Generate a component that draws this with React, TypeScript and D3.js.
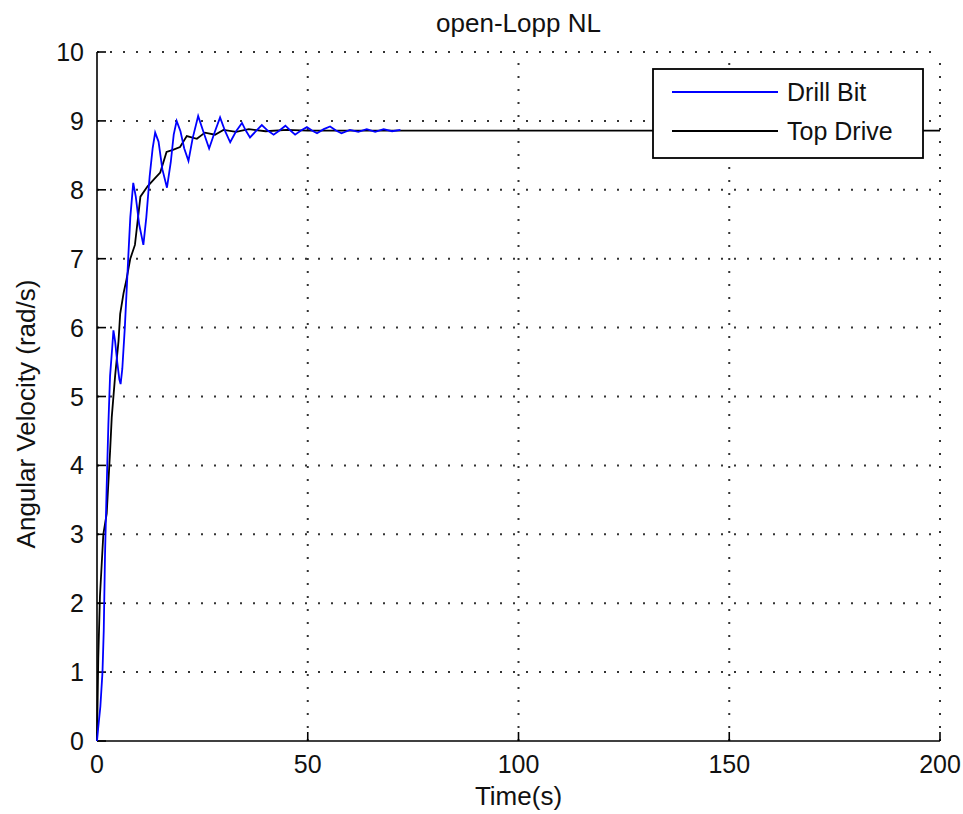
import React from 'react';
import * as d3 from 'd3';

// Drill bit angular velocity (blue)
const bitTime = [0, 0.3, 0.8, 1.3, 1.6, 1.9, 2.3, 2.7, 3.1, 3.6, 3.9, 4.3, 4.8, 5.3, 5.6, 6.0, 6.6, 7.0, 7.4, 7.9, 8.6, 9.2, 10, 11, 11.7, 12.5, 13.2, 13.8, 14.6, 15.5, 16.6, 17.5, 18.2, 18.9, 19.8, 20.7, 21.7, 22.7, 24, 25.2, 26.6, 28, 29.2, 30.4, 31.6, 33, 34.4, 35.3, 36.3, 37.7, 39.1, 40.5, 41.9, 43.3, 44.7, 45.9, 47, 48.4, 49.8, 51, 52.2, 53.8, 55.3, 56.7, 58, 60, 62, 64, 66, 68, 70, 72];
const bitVel = [0, 0.2, 0.5, 1.0, 1.6, 2.7, 3.7, 4.6, 5.3, 5.7, 5.96, 5.8, 5.5, 5.25, 5.18, 5.4, 6.0, 6.5, 7.0, 7.6, 8.1, 7.9, 7.5, 7.2, 7.6, 8.2, 8.6, 8.83, 8.7, 8.3, 8.03, 8.4, 8.8, 9.0, 8.85, 8.6, 8.42, 8.75, 9.07, 8.85, 8.6, 8.85, 9.05, 8.85, 8.69, 8.85, 8.97, 8.86, 8.76, 8.85, 8.94, 8.86, 8.8, 8.86, 8.93, 8.86, 8.8, 8.86, 8.91, 8.86, 8.82, 8.88, 8.92, 8.86, 8.82, 8.87, 8.84, 8.88, 8.84, 8.88, 8.85, 8.87];

// Top drive angular velocity (black)
const topTime = [0, 0.3, 0.7, 1.5, 2.3, 3.1, 3.5, 4.3, 5.1, 5.5, 6.3, 7.0, 7.9, 9.0, 10.3, 12, 13.5, 15, 16.5, 18, 19.7, 21.3, 23.7, 25.6, 28, 30, 33, 36, 40, 45, 50, 200];
const topVel = [0, 1.2, 2.1, 3.0, 3.3, 4.2, 4.7, 5.3, 5.8, 6.2, 6.5, 6.7, 7.0, 7.2, 7.9, 8.05, 8.15, 8.25, 8.55, 8.58, 8.62, 8.78, 8.74, 8.83, 8.8, 8.87, 8.84, 8.88, 8.85, 8.87, 8.86, 8.86];

const xTicks = [0, 50, 100, 150, 200];
const yTicks = [0, 1, 2, 3, 4, 5, 6, 7, 8, 9, 10];
const legendLabels = ['Drill Bit', 'Top Drive'];

const W = 963;
const H = 814;
const margin = { top: 52, right: 23, bottom: 73, left: 97 };
const FONT = '"Liberation Sans", Arial, sans-serif';

export default function App() {
  const x = d3.scaleLinear().domain([0, 200]).range([margin.left, W - margin.right]);
  const y = d3.scaleLinear().domain([0, 10]).range([H - margin.bottom, margin.top]);

  const line = d3.line<[number, number]>()
    .x(d => x(d[0]))
    .y(d => y(d[1]));

  const bitPts = bitTime.map((t, i) => [t, bitVel[i]] as [number, number]);
  const topPts = topTime.map((t, i) => [t, topVel[i]] as [number, number]);

  const x0 = x(0), x1 = x(200), y0 = y(0), y1 = y(10);
  const tickLen = 9;
  const midX = (x0 + x1) / 2;

  // legend box
  const lg = { x: 653, y: 69, w: 270, h: 89 };

  return (
    <svg width={W} height={H} style={{ position: 'absolute', left: 0, top: 0, background: '#fff' }}
      fontFamily={FONT}>
      {/* dotted grid */}
      <g stroke="#333" strokeWidth={2} strokeDasharray="2 11">
        {xTicks.filter(t => t > 0).map(t => (
          <line key={'gx' + t} x1={x(t)} x2={x(t)} y1={y0} y2={y1} />
        ))}
        {yTicks.filter(t => t > 0).map(t => (
          <line key={'gy' + t} x1={x0} x2={x1} y1={y(t)} y2={y(t)} />
        ))}
      </g>

      {/* axes lines and inward ticks */}
      <g stroke="#000" strokeWidth={1.6}>
        <line x1={x0} x2={x0} y1={y1} y2={y0} />
        <line x1={x0} x2={x1} y1={y0} y2={y0} />
        {xTicks.map(t => (
          <line key={'tx' + t} x1={x(t)} x2={x(t)} y1={y0} y2={y0 - tickLen} />
        ))}
        {yTicks.map(t => (
          <line key={'ty' + t} x1={x0} x2={x0 + tickLen} y1={y(t)} y2={y(t)} />
        ))}
      </g>

      {/* tick labels */}
      <g fontSize={25} fill="#111">
        {xTicks.map(t => (
          <text key={'lx' + t} x={x(t)} y={773} textAnchor="middle">{t}</text>
        ))}
        {yTicks.map(t => (
          <text key={'ly' + t} x={84} y={y(t)} textAnchor="end" dominantBaseline="central">{t}</text>
        ))}
      </g>

      {/* series */}
      <path d={line(topPts) || ''} fill="none" stroke="#000" strokeWidth={1.8} />
      <path d={line(bitPts) || ''} fill="none" stroke="#0000ff" strokeWidth={1.8} />

      {/* title and axis labels */}
      <text x={midX} y={32} textAnchor="middle" fontSize={26} fill="#111">open-Lopp NL</text>
      <text x={midX} y={805} textAnchor="middle" fontSize={26} fill="#111">Time(s)</text>
      <text transform={`translate(35,414) rotate(-90)`} textAnchor="middle" fontSize={26} fill="#111">
        Angular Velocity (rad/s)
      </text>

      {/* legend */}
      <g>
        <rect x={lg.x} y={lg.y} width={lg.w} height={lg.h} fill="#fff" stroke="#000" strokeWidth={1.8} />
        {legendLabels.map((name, i) => {
          const ly = 92 + i * 39;
          return (
            <g key={name}>
              <line x1={672} x2={778} y1={ly} y2={ly} stroke={i === 0 ? '#0000ff' : '#000'} strokeWidth={1.8} />
              <text x={787} y={ly} dominantBaseline="central" fontSize={25} fill="#111">{name}</text>
            </g>
          );
        })}
      </g>
    </svg>
  );
}
